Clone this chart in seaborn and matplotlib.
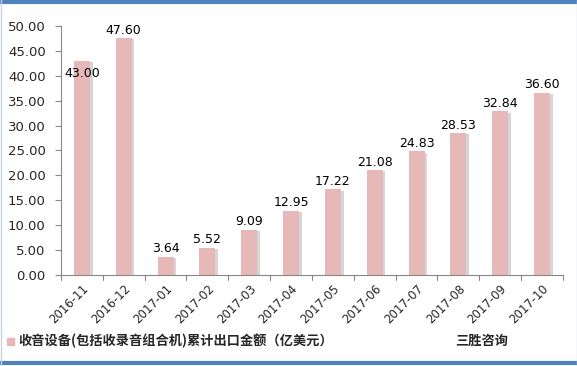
import matplotlib
matplotlib.use("Agg")
import matplotlib.pyplot as plt
import matplotlib.patheffects as pe
from matplotlib.lines import Line2D
from matplotlib.patches import Rectangle
import seaborn as sns
import pandas as pd

categories = ["2016-11", "2016-12", "2017-01", "2017-02", "2017-03", "2017-04",
              "2017-05", "2017-06", "2017-07", "2017-08", "2017-09", "2017-10"]
values = [43.00, 47.60, 3.64, 5.52, 9.09, 12.95, 17.22, 21.08, 24.83, 28.53, 32.84, 36.60]
series_name = "收音设备(包括收录音组合机)累计出口金额（亿美元）"
source_name = "三胜咨询"
yticks = [0, 5, 10, 15, 20, 25, 30, 35, 40, 45, 50]

sns.set_theme(style="white")
plt.rcParams['font.family'] = ['DejaVu Sans', 'Noto Sans CJK SC']

df = pd.DataFrame({"month": categories, "value": values})

fig = plt.figure(figsize=(5.77, 3.66), dpi=100)
ax = fig.add_axes([0.1057, 0.2486, 0.87, 0.6804])

bar_color = "#E6B8B7"
sns.barplot(data=df, x="month", y="value", color=bar_color, width=0.38,
            saturation=1, ax=ax, edgecolor="none")
for p in ax.patches:
    p.set_path_effects([pe.SimplePatchShadow(offset=(2, -1), shadow_rgbFace="#999999", alpha=0.4),
                        pe.Normal()])

for i, v in enumerate(values):
    off = -14 if i == 0 else 1
    ax.annotate(f"{v:.2f}", (i, v), xytext=(0, off), textcoords="offset points",
                ha="center", va="bottom", fontsize=9, color="black")

ax.set_ylim(0, 50)
ax.set_xlim(-0.5, len(categories) - 0.5)
ax.set_yticks(yticks)
ax.set_yticklabels([f"{t:.2f}" for t in yticks], fontsize=9.5)
ax.set_xticks(range(len(categories)))
ax.set_xticklabels(categories, rotation=45, ha="right", rotation_mode="anchor", fontsize=8.5)
ax.tick_params(axis="x", length=0, pad=5)
ax.tick_params(axis="y", length=4, left=True, color="#888888", width=0.8, pad=7)
for b in [i - 0.5 for i in range(len(categories) + 1)]:
    ax.plot([b, b], [0, -0.02], transform=ax.get_xaxis_transform(), color="#888888",
            lw=0.8, clip_on=False)
ax.set_xlabel("")
ax.set_ylabel("")
for s in ["top", "right"]:
    ax.spines[s].set_visible(False)
for s in ["left", "bottom"]:
    ax.spines[s].set_color("#888888")
    ax.spines[s].set_linewidth(0.8)

# legend
fig.patches.append(Rectangle((7 / 577, 1 - 345 / 366), 7 / 577, 7 / 366,
                             transform=fig.transFigure, color=bar_color))
fig.text(18 / 577, 1 - 341 / 366, series_name, fontsize=9.5, fontweight="bold",
         va="center", ha="left", family=['Noto Sans CJK SC', 'DejaVu Sans'])
fig.text(455 / 577, 1 - 341 / 366, source_name, fontsize=9.5, fontweight="bold",
         va="center", ha="left", family=['Noto Sans CJK SC', 'DejaVu Sans'])

# frame
fig.add_artist(Line2D([0, 1], [1 - 2 / 366, 1 - 2 / 366], transform=fig.transFigure,
                      color="#4F81BD", lw=3))
fig.add_artist(Line2D([0, 1], [3 / 366, 3 / 366], transform=fig.transFigure,
                      color="#4F81BD", lw=3))
fig.add_artist(Line2D([0.5 / 577, 0.5 / 577], [0, 1], transform=fig.transFigure,
                      color="#C9D3E0", lw=1))
fig.add_artist(Line2D([1 - 0.5 / 577, 1 - 0.5 / 577], [0, 1], transform=fig.transFigure,
                      color="#C9D3E0", lw=1))

fig.savefig("out.png", dpi=100)
